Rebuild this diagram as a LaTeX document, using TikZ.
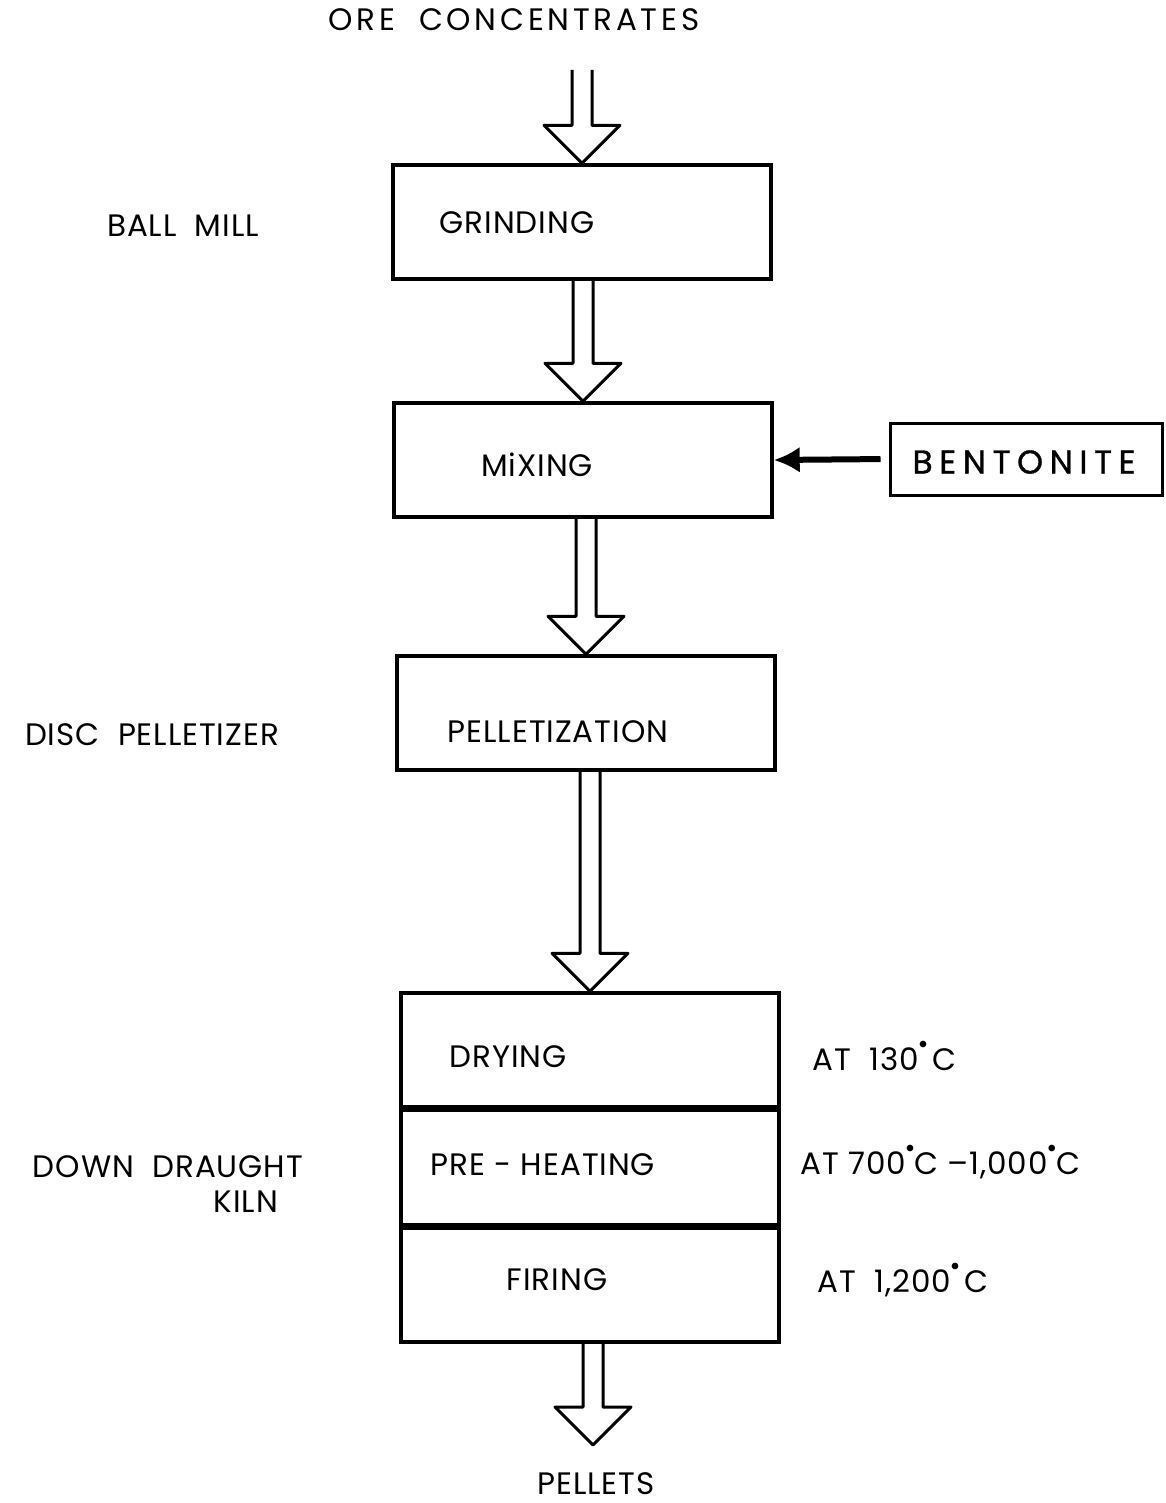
\documentclass[tikz,border=0pt]{standalone}
\usepackage{fontspec}
\setmainfont{Poppins}[LetterSpace=3]
\usetikzlibrary{arrows.meta,calc}

\newcommand{\dg}{\raisebox{1.3ex}{$\scriptscriptstyle\bullet$}}

\tikzset{
  stage/.style={draw,line width=1.7pt,minimum width=189pt,minimum height=57pt,inner sep=0pt},
  lbl/.style={font=\fontsize{15.5}{18}\selectfont,inner sep=1pt},
  flow/.style={line width=1.5pt,line join=round,to path={
    let \p1=(\tikztostart),\p2=(\tikztotarget) in
    (\x2-5pt,\y1) -- (\x2-5pt,\y2+19pt) -- (\x2-19pt,\y2+19pt) -- (\x2,\y2)
    -- (\x2+19pt,\y2+19pt) -- (\x2+5pt,\y2+19pt) -- (\x2+5pt,\y1)}},
}

\begin{document}
\begin{tikzpicture}[x=0.5pt,y=-0.5pt]
  \useasboundingbox (0,0) rectangle (1166,1503);

  % process boxes
  \node[stage] (grind) at (582,222) {};
  \node[stage] (mix) at (583,460) {};
  \node[stage] (pellet) at (586,713) {};
  \node[stage] (dry) at (590,1050) {};
  \node[stage,anchor=north] (heat) at (dry.south) {};
  \node[stage,anchor=north] (fire) at (heat.south) {};
  \node[draw,line width=1.5pt,minimum width=136pt,minimum height=36pt] (bent) at (1026,459) {};

  % box texts
  \node[lbl] at (517,223) {GRINDING};
  \node[lbl] at (537,465) {MiXING};
  \node[lbl] at (558,732) {PELLETIZATION};
  \node[lbl] at (508,1057) {DRYING};
  \node[lbl] at (543,1165) {PRE - HEATING};
  \node[lbl] at (557,1280) {FIRING};
  \node[lbl,font=\fontsize{16.5}{18}\selectfont\addfontfeatures{LetterSpace=20,FakeBold=1}] at (1024,462) {BENTONITE};

  % in and out
  \node[lbl,font=\fontsize{15.5}{18}\selectfont\addfontfeatures{LetterSpace=12}] (ore) at (514,20) {ORE\ \ CONCENTRATES};
  \node[lbl] (pellets) at (596,1484) {PELLETS};
  \coordinate (src) at (577,70);
  \coordinate (sink) at (593,1445);

  % side notes
  \node[lbl] at (183,226) {BALL\ \ MILL};
  \node[lbl] at (152,735) {DISC\ \ PELLETIZER};
  \node[lbl] at (168,1167) {DOWN\ \ DRAUGHT};
  \node[lbl] at (246,1202) {KILN};
  \node[lbl,anchor=west] at (810,1056) {AT\ \ 130\dg\,C};
  \node[lbl,anchor=west] at (798,1162) {AT 700\dg C --1,000\dg C};
  \node[lbl,anchor=west] at (815,1280) {AT\ \ 1,200\dg\,C};

  % flow arrows
  \draw[flow] (src) to (grind.north);
  \draw[flow] (grind.south) to (mix.north);
  \draw[flow] (mix.south) to (pellet.north);
  \draw[flow] (pellet.south) to (dry.north);
  \draw[flow] (fire.south) to (sink);
  \draw[line width=3pt,-{Latex[length=13pt,width=13pt]},shorten <=4pt] (bent.west) -- (mix.east);
\end{tikzpicture}
\end{document}
